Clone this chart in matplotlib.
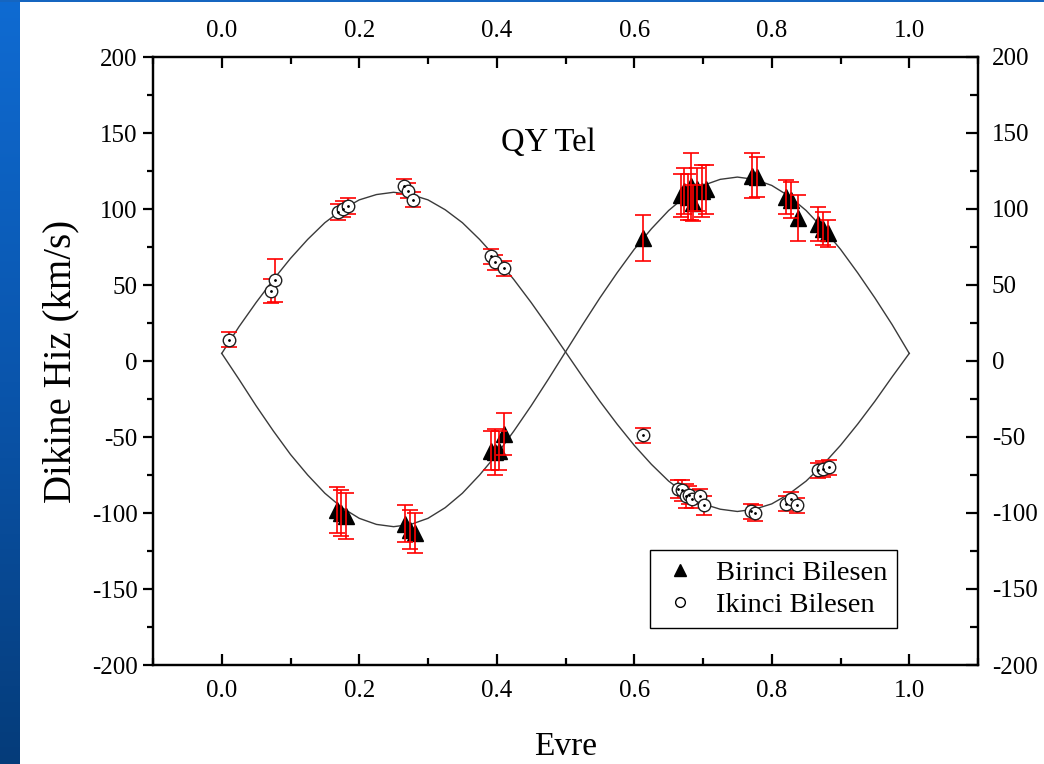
import numpy as np
import matplotlib.pyplot as plt
from matplotlib.lines import Line2D
from matplotlib.ticker import MultipleLocator
from matplotlib.colors import LinearSegmentedColormap

plt.rcParams["font.family"] = ["Liberation Serif", "DejaVu Serif"]
plt.rcParams["axes.unicode_minus"] = False

# primary component (filled triangles): phase, velocity, error
p1_phase = [0.167, 0.174, 0.180, 0.266, 0.274, 0.281, 0.391, 0.398, 0.403, 0.411,
            0.612, 0.668, 0.673, 0.678, 0.682, 0.686, 0.692, 0.698, 0.704,
            0.771, 0.778, 0.821, 0.828, 0.838, 0.868, 0.875, 0.882]
p1_vel = [-98, -100, -102, -107, -111, -113, -59, -60, -59, -48,
          81, 109, 112, 108, 115, 104, 113, 112, 113,
          122, 121, 108, 106, 94, 90, 87, 84]
p1_err = [15, 15, 15, 12, 13, 13, 13, 15, 13, 14,
          15, 14, 15, 15, 22, 12, 14, 17, 16,
          15, 13, 11, 12, 15, 11, 11, 9]

# secondary component (open circles)
p2_phase = [0.010, 0.072, 0.077, 0.169, 0.176, 0.184, 0.265, 0.271, 0.278,
            0.391, 0.398, 0.411, 0.612, 0.664, 0.670, 0.675, 0.680, 0.684,
            0.695, 0.701, 0.770, 0.776, 0.821, 0.828, 0.837, 0.868, 0.874, 0.883]
p2_vel = [14, 46, 53, 98, 100, 102, 115, 112, 106,
          69, 65, 61, -49, -84, -85, -89, -88, -91,
          -89, -95, -99, -100, -94, -91, -95, -72, -71, -70]
p2_err = [5, 8, 14, 5, 5, 5, 5, 5, 5,
          5, 5, 5, 5, 6, 7, 8, 6, 6,
          5, 6, 5, 5, 5, 5, 5, 5, 5, 5]

# orbital solution curves
curve_phase = [0.000, 0.025, 0.050, 0.075, 0.100, 0.125, 0.150, 0.175, 0.200, 0.225,
               0.250, 0.275, 0.300, 0.325, 0.350, 0.375, 0.400, 0.425, 0.450, 0.475,
               0.500, 0.525, 0.550, 0.575, 0.600, 0.625, 0.650, 0.675, 0.700, 0.725,
               0.750, 0.775, 0.800, 0.825, 0.850, 0.875, 0.900, 0.925, 0.950, 0.975,
               1.000]
curve_v1 = [5, -12, -29.5, -46, -61.5, -75, -87, -96.5, -103.5, -107.5,
            -109, -107.5, -103.5, -96.5, -87, -75, -61.5, -46, -29.5, -12,
            6, 24, 41.5, 58, 73.5, 87, 99, 108.5, 115.5, 119.5,
            121, 119.5, 115.5, 108.5, 99, 87, 73.5, 58, 41.5, 24,
            5]
curve_v2 = [5, 22.5, 38.5, 53.5, 67.5, 80, 91, 99.5, 106, 109.5,
            111, 109.5, 106, 99.5, 91, 80, 67.5, 53.5, 38.5, 22.5,
            6, -10.5, -26.5, -41.5, -55.5, -68, -79, -87.5, -94, -97.5,
            -99, -97.5, -94, -87.5, -79, -68, -55.5, -41.5, -26.5, -10.5,
            5]

tick_fs = 18

fig = plt.figure(figsize=(10.44, 7.64), dpi=100)

# slide background strip on the left and thin line on top
bg = fig.add_axes([0, 0, 20 / 1044, 1])
slide = LinearSegmentedColormap.from_list("slide", ["#0f6bd2", "#0a55ac", "#053c7a"])
bg.imshow(np.linspace(0, 1, 256).reshape(-1, 1), cmap=slide, aspect="auto",
          extent=[0, 1, 0, 1], origin="upper")
bg.axis("off")
fig.add_artist(plt.Rectangle((0, 1 - 2 / 764), 1, 2 / 764, transform=fig.transFigure,
                             color="#1565c0", lw=0))

ax = fig.add_axes([153 / 1044, 1 - 665 / 764, 825 / 1044, 608 / 764])

ax.plot(curve_phase, curve_v1, color="#3a3a3a", lw=1.0, zorder=1)
ax.plot(curve_phase, curve_v2, color="#3a3a3a", lw=1.0, zorder=1)

ax.plot(p1_phase, p1_vel, "^", color="black", ms=11.5, zorder=2)
ax.errorbar(p1_phase, p1_vel, yerr=p1_err, fmt="none", ecolor="red", elinewidth=1.2,
            capsize=6, capthick=1.2, zorder=3)

ax.errorbar(p2_phase, p2_vel, yerr=p2_err, fmt="none", ecolor="red", elinewidth=1.2,
            capsize=6, capthick=1.2, zorder=3)
ax.plot(p2_phase, p2_vel, "o", mfc="white", mec="#202020", mew=1.0, ms=9, zorder=4)
ax.plot(p2_phase, p2_vel, ".", color="black", ms=2, zorder=5)

ax.set_xlim(-0.1, 1.1)
ax.set_ylim(-200, 200)
ax.set_xticks([0.0, 0.2, 0.4, 0.6, 0.8, 1.0])
ax.set_xticklabels(["0.0", "0.2", "0.4", "0.6", "0.8", "1.0"])
ax.xaxis.set_minor_locator(MultipleLocator(0.1))
ax.yaxis.set_major_locator(MultipleLocator(50))
ax.yaxis.set_minor_locator(MultipleLocator(25))

for s in ax.spines.values():
    s.set_linewidth(1.6)

ax.tick_params(axis="x", which="both", direction="in", top=True, bottom=True,
               labeltop=True, labelsize=tick_fs, width=1.6)
ax.tick_params(axis="x", which="major", length=8, pad=11)
ax.tick_params(axis="x", which="minor", length=5)
ax.tick_params(axis="y", which="both", direction="out", right=False, labelsize=tick_fs, width=1.6)
ax.tick_params(axis="y", which="major", length=7, pad=4)
ax.tick_params(axis="y", which="minor", length=4.5)

axr = ax.twinx()
axr.set_ylim(-200, 200)
axr.yaxis.set_major_locator(MultipleLocator(50))
axr.yaxis.set_minor_locator(MultipleLocator(25))
axr.tick_params(axis="y", which="both", direction="in", labelsize=tick_fs, width=1.6)
axr.tick_params(axis="y", which="major", length=9, pad=10)
axr.tick_params(axis="y", which="minor", length=5.5)
for s in axr.spines.values():
    s.set_linewidth(1.6)

ax.set_xlabel("Evre", fontsize=24, labelpad=21)
ax.set_ylabel("Dikine Hiz (km/s)", fontsize=28, labelpad=9)
ax.text(0.479, 0.859, "QY Tel", transform=ax.transAxes, fontsize=23.5,
        ha="center", va="center")

handles = [Line2D([], [], ls="none", marker="^", color="black", ms=9),
           Line2D([], [], ls="none", marker="o", mfc="white", mec="black", ms=7)]
leg = ax.legend(handles, ["Birinci Bilesen", "Ikinci Bilesen"], loc="lower right",
                bbox_to_anchor=(0.902, 0.061), borderaxespad=0, fontsize=20.5,
                frameon=True, fancybox=False, framealpha=1, edgecolor="black",
                handlelength=1.4, handletextpad=0.55, labelspacing=0.2, borderpad=0.35)
leg.get_frame().set_linewidth(1.0)

fig.savefig("out.png", dpi=100)
